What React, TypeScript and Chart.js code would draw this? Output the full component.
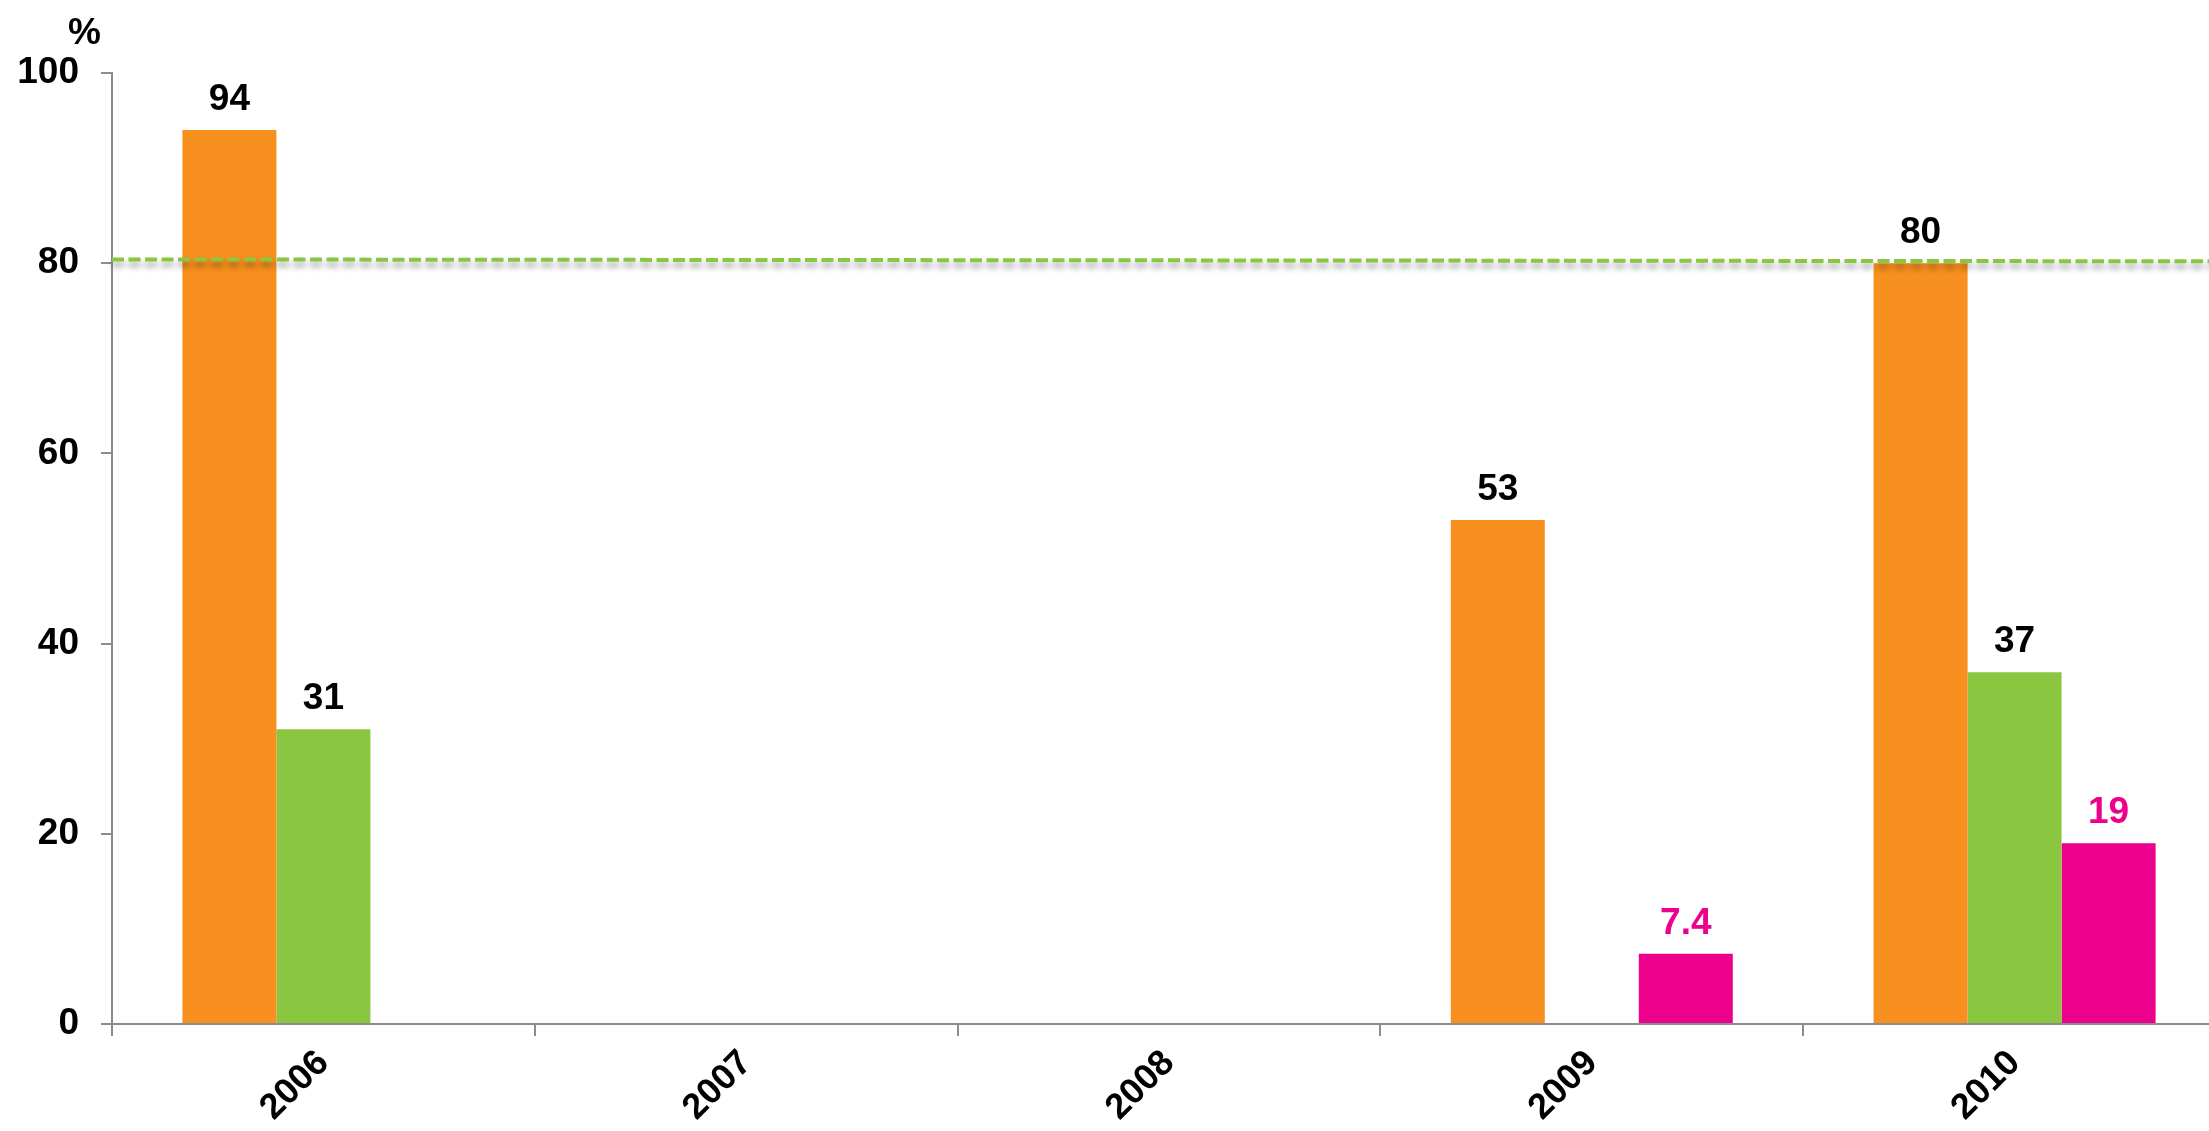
import React, { useEffect, useRef } from "react";
import { Chart, registerables } from "chart.js";

Chart.register(...registerables);

const categories = ["2006", "2007", "2008", "2009", "2010"];
const seriesOrange = [94, null, null, 53, 80];
const seriesGreen = [31, null, null, null, 37];
const seriesPink = [null, null, null, 7.4, 19];
const yTicks = [0, 20, 40, 60, 80, 100];
const targetLine = [80.4, 80.2]; // left end, right end
const unitLabel = "%";

const ORANGE = "#F7901E";
const GREEN = "#8BC641";
const PINK = "#EC008C";
const AXIS = "#8c8c8c";
const FONT = "'Liberation Sans', Arial, sans-serif";

const valueLabels = {
  id: "valueLabels",
  afterDatasetsDraw(chart: any) {
    const ctx = chart.ctx;
    ctx.save();
    ctx.font = `bold 37px ${FONT}`;
    ctx.textAlign = "center";
    ctx.textBaseline = "alphabetic";
    chart.data.datasets.forEach((ds: any, i: number) => {
      const meta = chart.getDatasetMeta(i);
      meta.data.forEach((el: any, j: number) => {
        const v = ds.data[j];
        if (v === null || v === undefined) return;
        ctx.fillStyle = ds.labelColor;
        ctx.fillText(String(v), el.x, el.y - 20);
      });
    });
    ctx.restore();
  },
};

const targetPlugin = {
  id: "targetPlugin",
  afterDatasetsDraw(chart: any) {
    const { ctx, chartArea, scales } = chart;
    const y1 = scales.y.getPixelForValue(targetLine[0]);
    const y2 = scales.y.getPixelForValue(targetLine[1]);
    ctx.save();
    ctx.strokeStyle = GREEN;
    ctx.lineWidth = 4;
    ctx.setLineDash([12, 4.5]);
    ctx.shadowColor = "rgba(0,0,0,0.4)";
    ctx.shadowBlur = 6;
    ctx.shadowOffsetY = 5;
    ctx.beginPath();
    ctx.moveTo(chartArea.left, y1);
    ctx.lineTo(chartArea.right, y2);
    ctx.stroke();
    ctx.restore();
  },
};

const unitPlugin = {
  id: "unitPlugin",
  afterDraw(chart: any) {
    const ctx = chart.ctx;
    ctx.save();
    ctx.font = `bold 37px ${FONT}`;
    ctx.fillStyle = "#000";
    ctx.textAlign = "left";
    ctx.textBaseline = "alphabetic";
    ctx.fillText(unitLabel, 68, 44);
    ctx.restore();
  },
};

export default function App() {
  const ref = useRef<HTMLCanvasElement | null>(null);

  useEffect(() => {
    if (!ref.current) return;
    const chart = new Chart(ref.current, {
      type: "bar",
      data: {
        labels: categories,
        datasets: [
          { data: seriesOrange, backgroundColor: ORANGE, labelColor: "#000" } as any,
          { data: seriesGreen, backgroundColor: GREEN, labelColor: "#000" } as any,
          { data: seriesPink, backgroundColor: PINK, labelColor: PINK } as any,
        ],
      },
      options: {
        responsive: false,
        animation: false,
        devicePixelRatio: 1,
        layout: { padding: { top: 73, left: 0, right: 14, bottom: 0 } },
        datasets: {
          bar: { categoryPercentage: 0.667, barPercentage: 1, borderWidth: 0 },
        },
        plugins: {
          legend: { display: false },
          tooltip: { enabled: false },
          title: { display: false },
        },
        scales: {
          x: {
            afterFit: (s: any) => {
              s.height = 107;
            },
            grid: {
              offset: true,
              drawOnChartArea: false,
              drawTicks: true,
              tickLength: 12,
              color: AXIS,
              lineWidth: 2,
            },
            border: { color: AXIS, width: 2 },
            ticks: {
              minRotation: 45,
              maxRotation: 45,
              padding: 6,
              color: "#000",
              font: { family: FONT, size: 36, weight: "bold" },
            },
          },
          y: {
            min: 0,
            max: 100,
            afterFit: (s: any) => {
              s.width = 112;
            },
            afterBuildTicks: (s: any) => {
              s.ticks = yTicks.map((v) => ({ value: v }));
            },
            grid: {
              drawOnChartArea: false,
              drawTicks: true,
              tickLength: 11,
              color: AXIS,
              lineWidth: 2,
            },
            border: { color: AXIS, width: 2 },
            ticks: {
              padding: 22,
              color: "#000",
              font: { family: FONT, size: 37, weight: "bold" },
            },
          },
        },
      },
      plugins: [valueLabels, targetPlugin, unitPlugin],
    });
    return () => chart.destroy();
  }, []);

  return (
    <div
      style={{
        position: "fixed",
        left: 0,
        top: 0,
        width: "2209px",
        height: "1131px",
        overflow: "hidden",
        background: "#fff",
      }}
    >
      <canvas
        ref={ref}
        width={2240}
        height={1131}
        style={{ display: "block", width: "2240px", height: "1131px" }}
      />
    </div>
  );
}
